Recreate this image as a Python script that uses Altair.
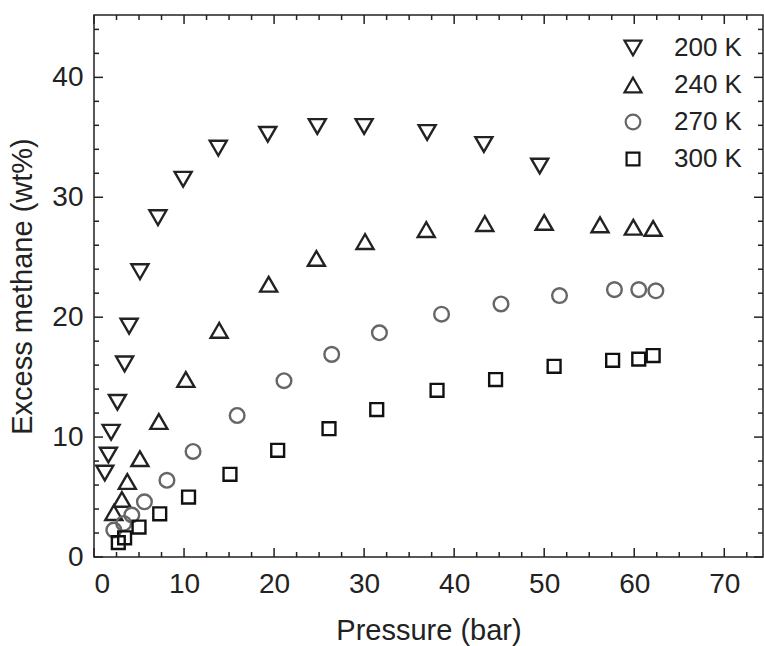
import altair as alt
import pandas as pd

# ---- data ----
series_names = ["200 K", "240 K", "270 K", "300 K"]

p200 = [1.2, 1.6, 1.9, 2.6, 3.4, 3.9, 5.1, 7.1, 9.9, 13.8, 19.3, 24.8, 30.0, 37.0, 43.3, 49.5]
w200 = [7.0, 8.5, 10.4, 12.9, 16.1, 19.25, 23.8, 28.3, 31.5, 34.1, 35.25, 35.9, 35.9, 35.4, 34.4, 32.6]

p240 = [2.2, 3.1, 3.7, 5.1, 7.2, 10.2, 13.9, 19.4, 24.7, 30.1, 36.9, 43.4, 50.0, 56.2, 59.9, 62.1]
w240 = [3.7, 4.8, 6.3, 8.2, 11.3, 14.8, 18.9, 22.75, 24.9, 26.3, 27.3, 27.8, 27.9, 27.7, 27.5, 27.4]

p270 = [2.2, 3.3, 4.2, 5.6, 8.1, 11.0, 15.9, 21.1, 26.4, 31.7, 38.6, 45.2, 51.7, 57.8, 60.5, 62.4]
w270 = [2.25, 2.8, 3.5, 4.6, 6.4, 8.8, 11.8, 14.7, 16.9, 18.7, 20.25, 21.1, 21.8, 22.3, 22.3, 22.2]

p300 = [2.7, 3.4, 5.0, 7.3, 10.5, 15.1, 20.4, 26.1, 31.4, 38.1, 44.6, 51.1, 57.6, 60.5, 62.1]
w300 = [1.2, 1.6, 2.5, 3.6, 5.0, 6.9, 8.9, 10.7, 12.3, 13.9, 14.8, 15.9, 16.4, 16.5, 16.8]

x_major = [0, 10, 20, 30, 40, 50, 60, 70]
x_minor = [2.5, 5, 7.5, 12.5, 15, 17.5, 22.5, 25, 27.5, 32.5, 35, 37.5, 42.5, 45, 47.5,
           52.5, 55, 57.5, 62.5, 65, 67.5, 72.5]
y_major = [0, 10, 20, 30, 40]
y_minor = [2, 4, 6, 8, 12, 14, 16, 18, 22, 24, 26, 28, 32, 34, 36, 38, 42, 44]

# ---- build tables ----
rows = []
for name, xs, ys in zip(series_names, [p200, p240, p270, p300], [w200, w240, w270, w300]):
    for a, b in zip(xs, ys):
        rows.append({"T": name, "P": a, "W": b})
df = pd.DataFrame(rows)

W, H = 669, 542
FONT = "Liberation Sans"
TXT = "#222222"

xscale = alt.Scale(domain=[0, 74.3], nice=False, zero=False)
yscale = alt.Scale(domain=[0, 45.2], nice=False, zero=False)

def legend():
    return alt.Legend(title=None, orient="none", legendX=526, legendY=20,
                      labelFontSize=26, labelColor=TXT, labelFont=FONT,
                      symbolStrokeWidth=2.2, rowPadding=11, labelOffset=28,
                      padding=0)

points = alt.Chart(df).mark_point(filled=False, strokeWidth=2.4, opacity=1).encode(
    x=alt.X("P:Q", scale=xscale, title="Pressure (bar)",
            axis=alt.Axis(values=x_major, ticks=False, domain=False, grid=False,
                          labelPadding=13, titlePadding=18, format="d")),
    y=alt.Y("W:Q", scale=yscale, title="Excess methane (wt%)",
            axis=alt.Axis(values=y_major, ticks=False, domain=False, grid=False,
                          labelPadding=11, titlePadding=14, format="d")),
    shape=alt.Shape("T:N", scale=alt.Scale(domain=series_names,
                    range=["triangle-down", "triangle-up", "circle", "square"]),
                    legend=legend()),
    color=alt.Color("T:N", scale=alt.Scale(domain=series_names,
                    range=["#222222", "#222222", "#666666", "#111111"]), legend=legend()),
    size=alt.Size("T:N", scale=alt.Scale(type="ordinal", domain=series_names,
                                         range=[290, 290, 215, 165]),
                  legend=legend()),
)

xmaj = pd.DataFrame({"v": x_major})
xmin = pd.DataFrame({"v": x_minor})
ymaj = pd.DataFrame({"v": y_major})
ymin = pd.DataFrame({"v": y_minor})

MAJ, MIN = 9, 5
tick_style = dict(color="#222222", strokeWidth=1.5)

def xticks(d, L):
    b = alt.Chart(d).mark_rule(**tick_style).encode(
        x=alt.X("v:Q", scale=xscale), y=alt.value(H), y2=alt.value(H - L))
    t = alt.Chart(d).mark_rule(**tick_style).encode(
        x=alt.X("v:Q", scale=xscale), y=alt.value(0), y2=alt.value(L))
    return b + t

def yticks(d, L):
    l = alt.Chart(d).mark_rule(**tick_style).encode(
        y=alt.Y("v:Q", scale=yscale), x=alt.value(0), x2=alt.value(L))
    r = alt.Chart(d).mark_rule(**tick_style).encode(
        y=alt.Y("v:Q", scale=yscale), x=alt.value(W), x2=alt.value(W - L))
    return l + r

chart = alt.layer(
    xticks(xmaj, MAJ), xticks(xmin, MIN), yticks(ymaj, MAJ), yticks(ymin, MIN), points
).properties(
    width=W, height=H,
    autosize=alt.AutoSizeParams(type="none"),
    padding={"left": 94, "top": 15, "right": 1, "bottom": 89},
    background="white",
).configure_view(
    stroke="#222222", strokeWidth=1.5
).configure_axis(
    labelFont=FONT, titleFont=FONT, labelFontSize=28, titleFontSize=29,
    labelColor=TXT, titleColor=TXT, titleFontWeight="normal",
)

chart.save("out.html", embed_options={"renderer": "svg", "actions": False})
